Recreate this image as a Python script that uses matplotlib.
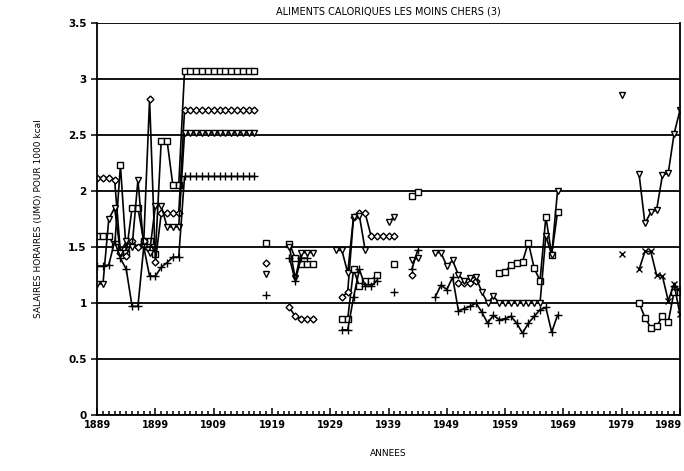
import numpy as np
from matplotlib import pyplot as plt
from matplotlib.ticker import MultipleLocator
from matplotlib.transforms import ScaledTranslation

n = np.nan
years = np.arange(1889, 1990)

# one value per year, 1889 -> 1989 (rows of ten years)
carres = [1.6, 1.6, 1.6, 1.5, 2.23, 1.45, 1.85, 1.85, 1.55, 1.55,
          1.44, 2.45, 2.45, 2.05, 2.05, 3.07, 3.07, 3.07, 3.07, 3.07,
          3.07, 3.07, 3.07, 3.07, 3.07, 3.07, 3.07, 3.07, n, 1.54,
          n, n, n, 1.53, 1.4, 1.35, 1.35, 1.35, n, n,
          n, n, 0.86, 0.86, 1.3, 1.15, 1.2, 1.2, 1.25, n,
          n, 1.35, n, n, 1.96, 1.99, n, n, n, n,
          n, n, n, n, n, n, n, n, n, 1.27,
          1.28, 1.34, 1.36, 1.37, 1.54, 1.31, 1.2, 1.77, 1.43, 1.81,
          n, n, n, n, n, n, n, n, n, n,
          n, n, n, 1.0, 0.87, 0.78, 0.79, 0.88, 0.83, 1.1,
          1.1]
losanges = [2.12, 2.12, 2.12, 2.1, 1.45, 1.42, 1.55, 1.5, 1.55, 2.82,
            1.37, 1.8, 1.8, 1.8, 1.8, 2.72, 2.72, 2.72, 2.72, 2.72,
            2.72, 2.72, 2.72, 2.72, 2.72, 2.72, 2.72, 2.72, n, 1.36,
            n, n, n, 0.96, 0.88, 0.86, 0.86, 0.86, n, n,
            n, n, 1.05, 1.1, 1.77, 1.8, 1.8, 1.6, 1.6, 1.6,
            1.6, 1.6, n, n, 1.25, n, n, n, n, n,
            n, n, 1.18, 1.18, 1.18, 1.2, n, n, n, n,
            n, n, n, n, n, n, n, n, n, n,
            n, n, n, n, n, n, n, n, n, n,
            n, n, n, n, n, n, n, n, n, n,
            n]
triangles = [1.17, 1.17, 1.75, 1.85, 1.45, 1.55, 1.5, 2.1, 1.5, 1.45,
             1.87, 1.87, 1.68, 1.68, 1.68, 2.52, 2.52, 2.52, 2.52, 2.52,
             2.52, 2.52, 2.52, 2.52, 2.52, 2.52, 2.52, 2.52, n, 1.26,
             n, n, n, 1.5, 1.22, 1.45, 1.45, 1.45, n, n,
             n, 1.47, 1.47, 1.27, 1.77, 1.78, 1.47, n, n, n,
             1.72, 1.77, n, n, 1.38, 1.4, n, n, 1.45, 1.45,
             1.33, 1.38, 1.25, 1.2, 1.22, 1.23, 1.1, 1.0, 1.06, 1.0,
             1.0, 1.0, 1.0, 1.0, 1.0, 1.0, 1.0, 1.6, 1.43, 2.0,
             n, n, n, n, n, n, n, n, n, n,
             2.86, n, n, 2.15, 1.71, 1.81, 1.83, 2.14, 2.16, 2.51,
             2.72]
croix = [1.33, 1.33, 1.34, 1.55, 1.4, 1.3, 0.97, 0.97, 1.5, 1.24,
         1.24, 1.32, 1.36, 1.41, 1.41, 2.13, 2.13, 2.13, 2.13, 2.13,
         2.13, 2.13, 2.13, 2.13, 2.13, 2.13, 2.13, 2.13, n, 1.07,
         n, n, n, 1.4, 1.2, 1.4, 1.4, n, n, n,
         n, n, 0.76, 0.76, 1.05, 1.3, 1.15, 1.15, 1.2, n,
         n, 1.1, n, n, 1.3, 1.47, n, n, 1.05, 1.16,
         1.12, 1.23, 0.93, 0.95, 0.97, 1.0, 0.92, 0.82, 0.89, 0.85,
         0.86, 0.88, 0.82, 0.73, 0.82, 0.88, 0.94, 0.96, 0.74, 0.89,
         n, n, n, n, n, n, n, n, n, n,
         n, n, n, n, n, n, n, n, n, 1.15,
         1.12]
fois = [n] * 90 + [1.44, n, n, 1.3, 1.46, 1.46, 1.25, 1.24, 1.02, 1.17, 0.9]

fig = plt.figure(figsize=(6.84, 4.71), dpi=100)
ax = fig.add_axes([0.142, 0.119, 0.852, 0.832])

ax.yaxis.grid(True, color='black', lw=1.3)
ax.set_axisbelow(True)

style = dict(color='black', lw=1.2, mfc='white', mec='black', mew=1.0)
ax.plot(years, carres, marker='s', ms=4.5, **style)
ax.plot(years, losanges, marker='D', ms=3.5, **style)
ax.plot(years, triangles, marker='v', ms=5, **style)
ax.plot(years, croix, marker='+', ms=5.5, **style)
ax.plot(years, fois, marker='x', ms=4.5, **style)

ax.set_xlim(1889, 1989)
ax.set_ylim(0, 3.5)
ax.set_xticks(np.arange(1889, 1990, 10))
ax.xaxis.set_minor_locator(MultipleLocator(1))
ax.set_yticks(np.arange(0, 3.51, 0.5))
ax.set_yticklabels(['0', '0.5', '1', '1.5', '2', '2.5', '3', '3.5'])
ax.tick_params(axis='x', which='both', direction='in', top=False, labelsize=7, width=1.1)
ax.tick_params(axis='x', which='major', length=5)
ax.tick_params(axis='x', which='minor', length=3)
ax.tick_params(axis='y', direction='out', length=4, labelsize=7.5, width=1.1)
for lab in ax.get_xticklabels() + ax.get_yticklabels():
    lab.set_fontweight('bold')
# last year label sits on the right edge: keep it inside the picture
last = ax.get_xticklabels()[-1]
last.set_horizontalalignment('right')
last.set_transform(last.get_transform() + ScaledTranslation(1.5 / 72, 0, fig.dpi_scale_trans))
for s in ax.spines.values():
    s.set_linewidth(1.3)
ax.spines['top'].set_visible(False)

ax.set_title('ALIMENTS CALORIQUES LES MOINS CHERS (3)', fontsize=7, pad=6)
ax.set_xlabel('ANNEES', fontsize=6.5, labelpad=14)
ax.set_ylabel('SALAIRES HORAIRES (UMO) POUR 1000 kcal', fontsize=6.5, labelpad=18)

plt.savefig('out.png', dpi=100)
